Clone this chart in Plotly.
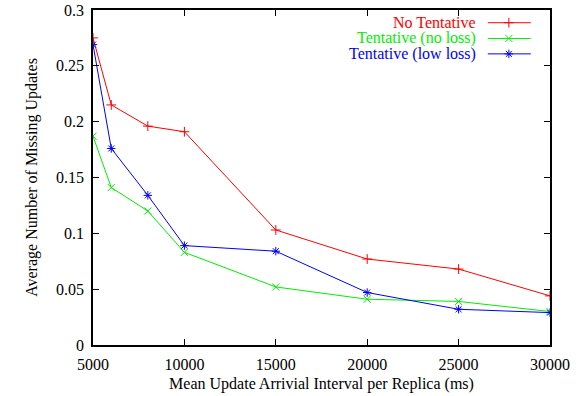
import plotly.graph_objects as go

x_vals = [5000, 6000, 8000, 10000, 15000, 20000, 25000, 30000]
no_tentative = [0.275, 0.215, 0.196, 0.191, 0.103, 0.077, 0.068, 0.044]
tentative_no_loss = [0.187, 0.141, 0.120, 0.083, 0.052, 0.041, 0.039, 0.030]
tentative_low_loss = [0.269, 0.176, 0.134, 0.089, 0.084, 0.047, 0.032, 0.029]

series_names = ["No Tentative", "Tentative (no loss)", "Tentative (low loss)"]
series_vals = [no_tentative, tentative_no_loss, tentative_low_loss]
colors = ["#ff0000", "#00ee00", "#0000ff"]
symbols = ["cross-thin-open", "x-thin-open", "asterisk-open"]

x_ticks = [5000, 10000, 15000, 20000, 25000, 30000]
x_tick_text = ["5000", "10000", "15000", "20000", "25000", "30000"]
y_ticks = [0, 0.05, 0.1, 0.15, 0.2, 0.25, 0.3]
y_tick_text = ["0", "0.05", "0.1", "0.15", "0.2", "0.25", "0.3"]

FONT = "Liberation Serif"
FS = 16

fig = go.Figure()
for name, vals, c, s in zip(series_names, series_vals, colors, symbols):
    fig.add_trace(go.Scatter(
        x=x_vals, y=vals, mode="lines+markers", name=name,
        line=dict(color=c, width=1),
        marker=dict(symbol=s, size=7, color=c, line=dict(color=c, width=1)),
        showlegend=False,
    ))

# custom gnuplot-style legend (text right, sample line at right), in an overlay [0,1] frame
legend_y = [0.962, 0.915, 0.869]
for i, (name, c, s) in enumerate(zip(series_names, colors, symbols)):
    fig.add_annotation(xref="x2", yref="y2", x=0.842, y=legend_y[i],
                       text=name, showarrow=False, xanchor="right", yanchor="middle",
                       font=dict(family=FONT, size=FS, color=c))
    fig.add_trace(go.Scatter(
        x=[0.864, 0.958], y=[legend_y[i], legend_y[i]], xaxis="x2", yaxis="y2",
        mode="lines", line=dict(color=c, width=1), showlegend=False, hoverinfo="skip"))
    fig.add_trace(go.Scatter(
        x=[0.910], y=[legend_y[i]], xaxis="x2", yaxis="y2",
        mode="markers", marker=dict(symbol=s, size=7, color=c, line=dict(color=c, width=1)),
        showlegend=False, hoverinfo="skip"))

axis_common = dict(showgrid=False, zeroline=False, showline=True, linecolor="black",
                   linewidth=1.5, mirror="ticks", ticks="inside", ticklen=6,
                   tickcolor="black", automargin=False,
                   tickfont=dict(family=FONT, size=FS, color="black"))

fig.update_layout(
    width=580, height=396,
    margin=dict(l=93, r=30, t=10, b=51),
    paper_bgcolor="white", plot_bgcolor="white",
    font=dict(family=FONT, size=FS, color="black"),
    xaxis=dict(range=[5000, 30000], tickvals=x_ticks, ticktext=x_tick_text,
               ticklabelstandoff=4,
               title=dict(text="Mean Update Arrivial Interval per Replica (ms)",
                          font=dict(family=FONT, size=FS), standoff=6),
               **axis_common),
    yaxis=dict(range=[0, 0.3], tickvals=y_ticks, ticktext=y_tick_text,
               ticklabelstandoff=4,
               title=dict(text="Average Number of Missing Updates",
                          font=dict(family=FONT, size=FS), standoff=14),
               **axis_common),
    xaxis2=dict(range=[0, 1], overlaying="x", visible=False),
    yaxis2=dict(range=[0, 1], overlaying="y", visible=False),
    showlegend=False,
)

fig.write_html("out.html", config={"displayModeBar": False},
               post_script="document.body.style.margin='0';")
